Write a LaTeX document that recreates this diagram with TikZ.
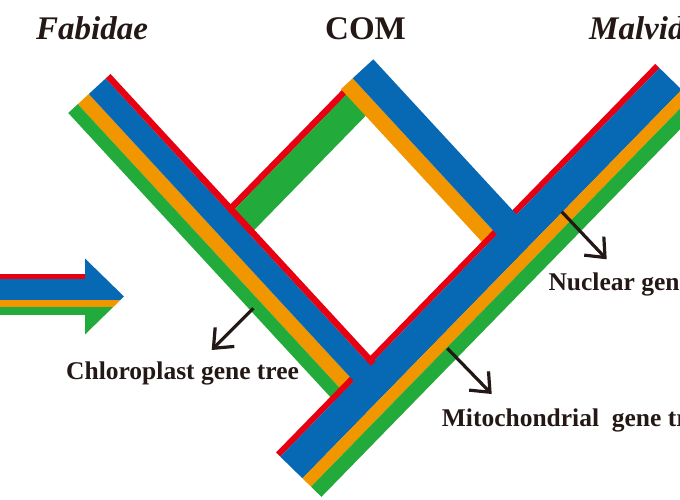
\documentclass[tikz,border=0pt]{standalone}
\usepackage{fontspec}
\setmainfont{Liberation Serif}
\usepackage{tikz}
\usetikzlibrary{arrows.meta}
\definecolor{plred}{HTML}{E60012}
\definecolor{plblue}{HTML}{0769B4}
\definecolor{plorange}{HTML}{F29600}
\definecolor{plgreen}{HTML}{22AA3B}
\definecolor{inkblack}{HTML}{231815}

\begin{document}
\begin{tikzpicture}[x=1pt, y=-1pt,
    taxon/.style={font=\fontsize{33}{36}\selectfont\bfseries, text=inkblack, inner sep=0pt, anchor=base west},
    genelabel/.style={font=\fontsize{25.5}{28}\selectfont\bfseries, text=inkblack, inner sep=0pt, anchor=base west},
    pointer/.style={draw=inkblack, line width=3.2pt, -{Straight Barb[length=16pt, width=27pt]}}]

\useasboundingbox (0,0) rectangle (680,500);
\clip (0,0) rectangle (680,500);

% incoming arrow
\fill[plred] (-5,273.5) rectangle (85.5,279);
\fill[plblue] (-5,279) rectangle (85.5,299.5);
\fill[plorange] (-5,299.5) rectangle (85.5,306.5);
\fill[plgreen] (-5,306.5) rectangle (85.5,315);
\begin{scope}
  \clip (85,258.5) -- (124,296.5) -- (85,334.5) -- cycle;
  \fill[plblue] (80,250) rectangle (130,299.5);
  \fill[plorange] (80,299.5) rectangle (130,306.5);
  \fill[plgreen] (80,306.5) rectangle (130,340);
\end{scope}

% cross branch Fabidae -> COM
\begin{scope}[shift={(276,452.5)}, rotate=45.7]
  \fill[plred] (120,-206) rectangle (307,-199.5);
  \fill[plgreen] (120,-199.5) rectangle (307,-171);
\end{scope}

% Fabidae branch, lower stripes
\begin{scope}[shift={(110.5,74)}, rotate=-47.3]
  \fill[plorange] (0,29.5) rectangle (395,44.5);
  \fill[plgreen] (0,44.5) rectangle (395,57.5);
\end{scope}

% COM branch, orange
\begin{scope}[shift={(373.3,59.3)}, rotate=-47.3]
  \fill[plorange] (0,28) rectangle (216,44);
\end{scope}

% Malvidae trunk
\begin{scope}[shift={(276,452.5)}, rotate=45.7]
  \fill[plred] (0,0) rectangle (543,6);
  \fill[plblue] (0,6) rectangle (543,37);
  \fill[plorange] (0,37) rectangle (543,49);
  \fill[plgreen] (0,49) rectangle (543,63.5);
\end{scope}

% Fabidae branch, upper stripes
\begin{scope}[shift={(110.5,74)}, rotate=-47.3]
  \fill[plblue] (0,6.5) rectangle (391,29.5);
  \fill[plred] (0,0) rectangle (391,6.5);
\end{scope}

% COM branch, blue
\begin{scope}[shift={(373.3,59.3)}, rotate=-47.3]
  \fill[plblue] (0,0) rectangle (213,28);
\end{scope}

\node[taxon] (fabidae) at (36,40) {\itshape Fabidae};
\node[taxon] (com) at (325,40) {COM};
\node[taxon] (malvidae) at (589,40) {\itshape Malvidae};

\node[genelabel] (cplabel) at (66,379.5) {Chloroplast gene tree};
\node[genelabel] (nuclabel) at (548.3,290) {Nuclear gene tree};
\node[genelabel] (mtlabel) at (441.7,426.7) {Mitochondrial\ \ gene tree};

\coordinate (cp-from) at (253.3,308.3);
\coordinate (cp-to) at (211.7,350);
\coordinate (nuc-from) at (561.7,211.7);
\coordinate (nuc-to) at (606.7,259.3);
\coordinate (mt-from) at (447.3,348.3);
\coordinate (mt-to) at (491.7,394);

\draw[pointer] (cp-from) -- (cp-to);
\draw[pointer] (nuc-from) -- (nuc-to);
\draw[pointer] (mt-from) -- (mt-to);
\end{tikzpicture}
\end{document}
